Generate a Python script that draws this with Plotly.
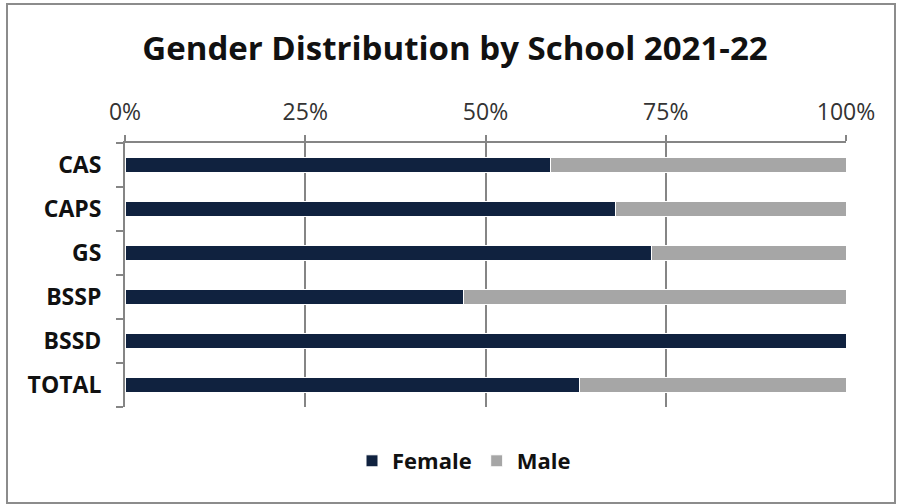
import plotly.graph_objects as go

categories = ["CAS", "CAPS", "GS", "BSSP", "BSSD", "TOTAL"]
female = [59, 68, 73, 47, 100, 63]
male = [41, 32, 27, 53, 0, 37]
tick_vals = [0, 25, 50, 75, 100]
tick_text = ["0%", "25%", "50%", "75%", "100%"]

W, H = 898, 504
L, R, T, B = 125, 52, 143, 97
pw, ph = W - L - R, H - T - B

font_fam = "Open Sans, Liberation Sans, sans-serif"

fig = go.Figure()
fig.add_trace(go.Bar(y=categories, x=female, name="<b>Female</b>", orientation="h",
                     marker=dict(color="#10223f", line=dict(color="white", width=1))))
fig.add_trace(go.Bar(y=categories, x=male, name="<b>Male</b>", orientation="h",
                     marker=dict(color="#a6a6a6", line=dict(color="white", width=1))))

def px_x(x):
    return (x - L) / pw

def px_y(y):
    return (H - B - y) / ph

fig.add_shape(type="rect", xref="paper", yref="paper",
              x0=px_x(7), x1=px_x(895), y0=px_y(503), y1=px_y(4),
              line=dict(color="#8c8c8c", width=2), fillcolor="rgba(0,0,0,0)", layer="below")

fig.update_layout(
    width=W, height=H,
    margin=dict(l=L, r=R, t=T, b=B),
    barmode="stack",
    bargap=0.65,
    paper_bgcolor="white",
    plot_bgcolor="white",
    font=dict(family=font_fam, color="#1a1a1a"),
    title=dict(text="<b>Gender Distribution by School 2021-22</b>",
               x=455 / W, xanchor="center", xref="container",
               y=1 - 48 / H, yanchor="middle", yref="container",
               font=dict(size=33, family=font_fam, color="#111111")),
    xaxis=dict(range=[0, 100], side="top", tickvals=tick_vals, ticktext=tick_text,
               showgrid=True, gridcolor="#858585", gridwidth=2,
               showline=True, linecolor="#858585", linewidth=2,
               ticks="outside", ticklen=6, tickcolor="#858585", tickwidth=2,
               tickfont=dict(size=23, color="#333333"), zeroline=False,
               ticklabelstandoff=6),
    yaxis=dict(autorange="reversed", showline=True, linecolor="#858585", linewidth=2,
               tickvals=categories, ticktext=[f"<b>{c}</b>" for c in categories],
               ticks="outside", tickson="boundaries", ticklen=7, tickcolor="#858585", tickwidth=2,
               tickfont=dict(size=23, color="#111111"), ticklabelstandoff=17,
               showgrid=False),
    legend=dict(orientation="h", x=(464 - L) / pw, xanchor="center",
                y=px_y(461), yanchor="middle", traceorder="normal",
                font=dict(size=22, color="#111111"), itemwidth=30,
                bgcolor="rgba(0,0,0,0)"),
    showlegend=True,
)

fig.write_html("out.html", config={"displayModeBar": False},
               post_script="document.body.style.margin='0';")
